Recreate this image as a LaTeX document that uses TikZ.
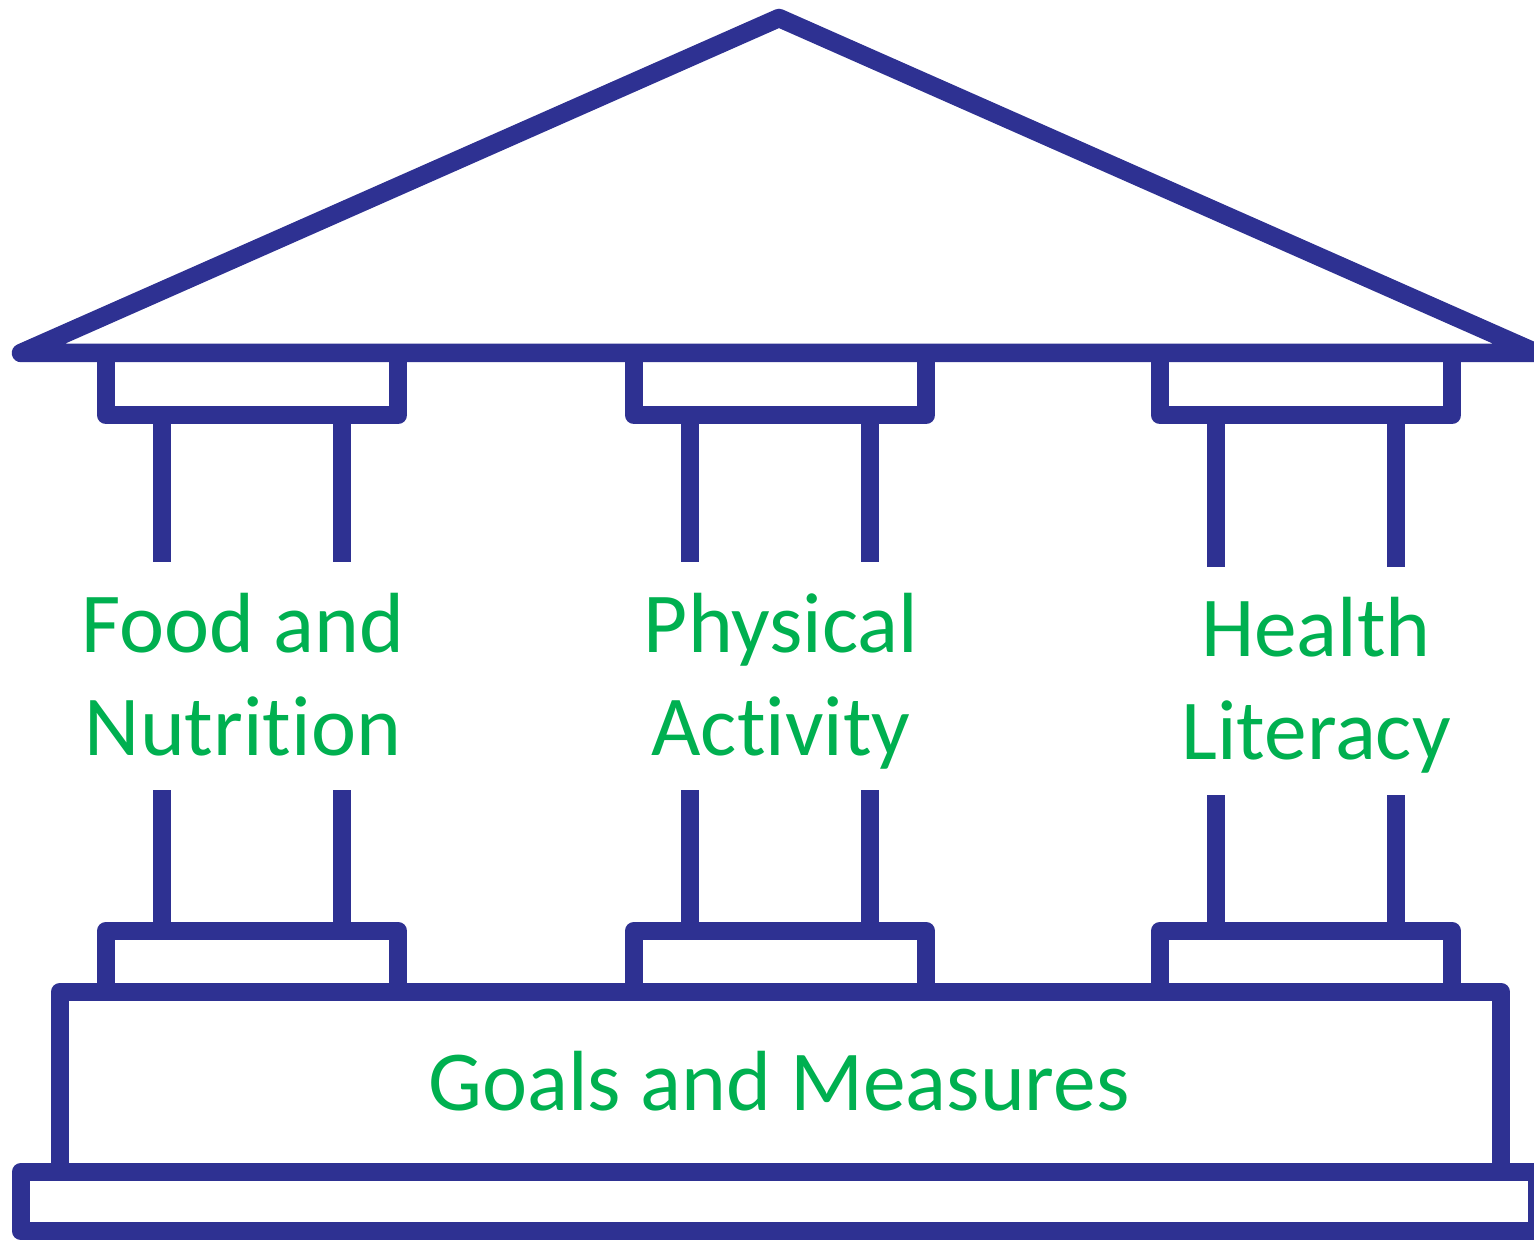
\documentclass[tikz,border=0pt]{standalone}
\usepackage{fontspec}
\setmainfont{Carlito}[Ligatures=NoCommon]
\definecolor{temple}{RGB}{46,49,146}
\definecolor{pillarlabel}{RGB}{0,176,80}

\begin{document}
\begin{tikzpicture}[x=0.5pt, y=-0.5pt, line width=9.25pt, line join=round,
     outline/.style={draw=temple},
     pillar text/.style={text=pillarlabel, font=\fontsize{42.7}{51.5}\selectfont, align=center, anchor=base, inner sep=0pt}]

   \useasboundingbox (0,0) rectangle (1534,1240);

   % roof
   \draw[outline] (21,353) coordinate (eaveleft) -- (779,18) coordinate (apex) -- (1537,353) coordinate (eaveright) -- cycle;

   % three pillars: capital, shaft, foot
   \foreach \cx/\lo/\hi in {252/562/790, 780/562/790, 1306/567/795} {
     \draw[outline] (\cx-146,353) rectangle (\cx+146,415);
     \draw[outline] (\cx-90,415) -- (\cx-90,\lo) (\cx+90,415) -- (\cx+90,\lo);
     \draw[outline] (\cx-90,\hi) -- (\cx-90,931) (\cx+90,\hi) -- (\cx+90,931);
     \draw[outline] (\cx-146,931) rectangle (\cx+146,992);
   }

   % plinth and step
   \draw[outline] (60,992) rectangle (1501,1172);
   \draw[outline] (21,1172) rectangle (1537,1231);

   \node[pillar text] (food) at (243,755) {Food and\\Nutrition};
   \node[pillar text] (physical) at (781,755) {Physical\\Activity};
   \node[pillar text] (health) at (1316,759) {Health\\Literacy};
   \node[pillar text] (goals) at (779,1110) {Goals and Measures};
\end{tikzpicture}
\end{document}
